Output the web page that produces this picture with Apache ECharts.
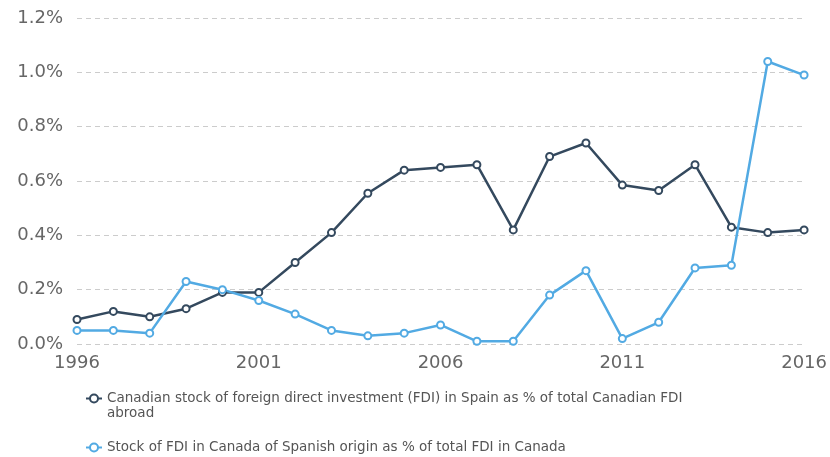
<!DOCTYPE html>
<html>
<head>
<meta charset="utf-8">
<script src="https://cdn.jsdelivr.net/npm/echarts@6/dist/echarts.min.js"></script>
<style>
  html, body { margin: 0; padding: 0; background: #fff; }
  #chart { width: 830px; height: 457px; }
</style>
</head>
<body>
<div id="chart"></div>
<script>
var years = ['1996', '1997', '1998', '1999', '2000', '2001', '2002', '2003', '2004', '2005', '2006',
    '2007', '2008', '2009', '2010', '2011', '2012', '2013', '2014', '2015', '2016'];

// Canadian FDI in Spain, % of total Canadian FDI abroad
var canadaInSpain = [0.09, 0.12, 0.10, 0.13, 0.19, 0.19, 0.30, 0.41, 0.555, 0.64, 0.65,
    0.66, 0.42, 0.69, 0.74, 0.585, 0.565, 0.66, 0.43, 0.41, 0.42];

// Spanish FDI in Canada, % of total FDI in Canada
var spainInCanada = [0.05, 0.05, 0.04, 0.23, 0.20, 0.16, 0.11, 0.05, 0.03, 0.04, 0.07,
    0.01, 0.01, 0.18, 0.27, 0.02, 0.08, 0.28, 0.29, 1.04, 0.99];

var seriesNames = [
    'Canadian stock of foreign direct investment (FDI) in Spain as % of total Canadian FDI abroad',
    'Stock of FDI in Canada of Spanish origin as % of total FDI in Canada'
];

var chart = echarts.init(document.getElementById('chart'));
var font = 'DejaVu Sans';

var legendText = {
    fontFamily: font,
    fontSize: 13.5,
    color: '#555',
    lineHeight: 15
};

var option = {
    animation: false,
    color: ['#34495e', '#52aae3'],
    grid: { left: 77, right: 20, top: 18, bottom: 113, containLabel: false },
    legend: [{
        // wrapped entry: blank first line keeps the icon next to line one
        orient: 'vertical',
        left: 85,
        top: 376,
        padding: 0,
        itemWidth: 16,
        itemHeight: 10,
        textStyle: legendText,
        formatter: function (name) {
            return ' \n' + name.replace(' abroad', '\nabroad');
        },
        data: [seriesNames[0]]
    }, {
        orient: 'vertical',
        left: 85,
        top: 440,
        padding: 0,
        itemWidth: 16,
        itemHeight: 10,
        textStyle: legendText,
        data: [seriesNames[1]]
    }],
    xAxis: {
        type: 'category',
        data: years,
        boundaryGap: false,
        axisLine: { show: false },
        axisTick: { show: false },
        axisLabel: {
            interval: 4,
            fontFamily: font,
            fontSize: 18,
            color: '#666',
            margin: 10
        }
    },
    yAxis: {
        type: 'value',
        min: 0,
        max: 1.2,
        interval: 0.2,
        axisLine: { show: false },
        axisTick: { show: false },
        splitLine: { lineStyle: { type: [5, 4], color: '#ccc', width: 1 } },
        axisLabel: {
            fontFamily: font,
            fontSize: 18,
            color: '#666',
            margin: 14,
            formatter: function (v) { return v.toFixed(1) + '%'; }
        }
    },
    series: [
        {
            name: seriesNames[0],
            type: 'line',
            data: canadaInSpain,
            symbol: 'emptyCircle',
            symbolSize: 7,
            lineStyle: { width: 2.5 },
            itemStyle: { borderWidth: 1.5 }
        },
        {
            name: seriesNames[1],
            type: 'line',
            data: spainInCanada,
            symbol: 'emptyCircle',
            symbolSize: 7,
            lineStyle: { width: 2.5 },
            itemStyle: { borderWidth: 1.5 }
        }
    ]
};

option && chart.setOption(option);
</script>
</body>
</html>
